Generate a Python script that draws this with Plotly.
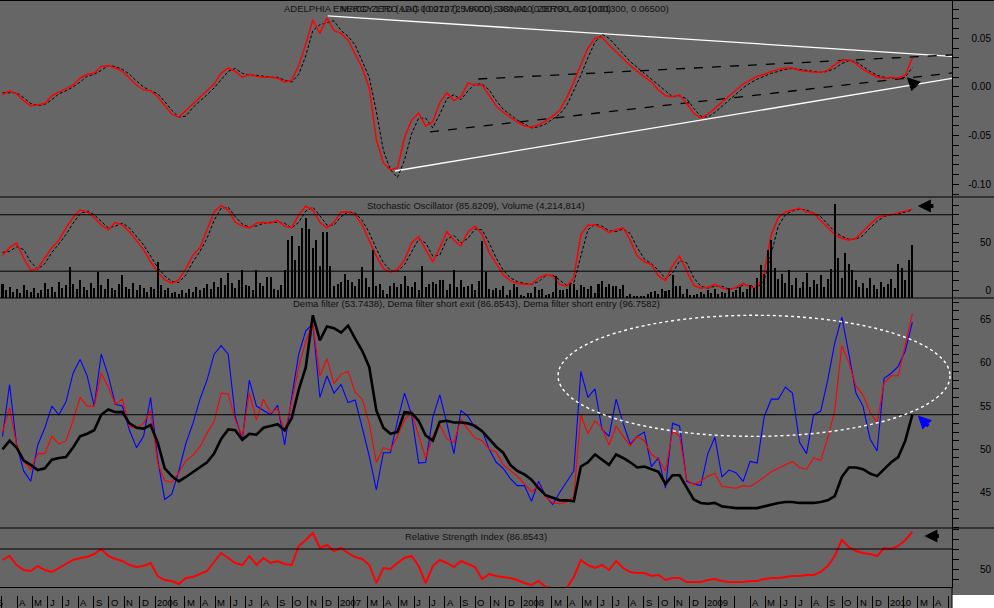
import plotly.graph_objects as go
import pandas as pd

# ---------------- data ----------------
START, END = "2005-03-03", "2010-02-18"
X_RANGE = ["2005-02-26", "2010-05-08"]

macd = [-0.008, -0.004, -0.007, -0.014, -0.0195, -0.018, -0.017, -0.009, -0.005, -0.002,
        0.002, 0.009, 0.013, 0.014, 0.021, 0.022, 0.0195, 0.016, 0.009, 0.002,
        -0.003, -0.004, -0.010, -0.0195, -0.028, -0.031, -0.024, -0.017, -0.011, -0.004,
        0.003, 0.014, 0.0195, 0.016, 0.010, 0.013, 0.011, 0.010, 0.010, 0.009,
        0.005, 0.007, 0.022, 0.044, 0.069, 0.055, 0.071, 0.058, 0.055, 0.048,
        0.033, 0.0195, -0.001, -0.054, -0.078, -0.085, -0.083, -0.052, -0.034, -0.027,
        -0.040, -0.036, -0.016, -0.006, -0.014, -0.010, 0.004, 0.002, 0.002, -0.009,
        -0.0195, -0.026, -0.031, -0.036, -0.040, -0.041, -0.039, -0.035, -0.030, -0.024,
        -0.011, 0.005, 0.023, 0.040, 0.050, 0.051, 0.043, 0.036, 0.028, 0.022,
        0.016, 0.010, 0.005, -0.003, -0.009, -0.010, -0.008, -0.017, -0.027, -0.032,
        -0.028, -0.022, -0.016, -0.010, -0.003, 0.003, 0.007, 0.011, 0.013, 0.016,
        0.018, 0.0195, 0.0195, 0.017, 0.016, 0.015, 0.015, 0.017, 0.023, 0.027,
        0.028, 0.024, 0.018, 0.014, 0.010, 0.009, 0.010, 0.009, 0.012, 0.030]

macd_signal = [-0.006, -0.006, -0.006, -0.011, -0.017, -0.019, -0.018, -0.013, -0.007, -0.004,
               0.000, 0.005, 0.011, 0.013, 0.017, 0.022, 0.021, 0.018, 0.013, 0.006,
               0.000, -0.004, -0.007, -0.015, -0.024, -0.031, -0.030, -0.021, -0.015, -0.008,
               -0.001, 0.008, 0.016, 0.019, 0.014, 0.012, 0.012, 0.011, 0.010, 0.010,
               0.007, 0.005, 0.013, 0.032, 0.058, 0.064, 0.066, 0.068, 0.058, 0.052,
               0.043, 0.027, 0.010, -0.025, -0.065, -0.085, -0.093, -0.075, -0.048, -0.032,
               -0.032, -0.042, -0.028, -0.012, -0.008, -0.013, -0.004, 0.003, 0.003, -0.003,
               -0.014, -0.023, -0.029, -0.034, -0.038, -0.042, -0.041, -0.038, -0.033, -0.028,
               -0.019, -0.004, 0.012, 0.030, 0.046, 0.054, 0.050, 0.042, 0.034, 0.026,
               0.020, 0.014, 0.008, 0.002, -0.005, -0.010, -0.009, -0.012, -0.022, -0.030,
               -0.031, -0.026, -0.020, -0.014, -0.007, -0.001, 0.004, 0.008, 0.011, 0.014,
               0.016, 0.018, 0.019, 0.018, 0.017, 0.016, 0.015, 0.016, 0.019, 0.024,
               0.027, 0.026, 0.021, 0.016, 0.012, 0.010, 0.009, 0.009, 0.010, 0.020]

stoch_k = [37, 45, 50, 34, 21, 23, 34, 45, 53, 66,
           77, 85, 83, 77, 69, 64, 72, 69, 62, 53,
           43, 30, 19, 11, 7, 11, 23, 37, 45, 64,
           83, 90, 85, 72, 68, 66, 71, 72, 71, 74,
           68, 66, 80, 89, 85, 72, 66, 72, 83, 83,
           80, 69, 53, 36, 23, 19, 22, 32, 50, 57,
           43, 30, 45, 62, 53, 47, 62, 68, 59, 40,
           28, 16, 10, 7, 6, 6, 13, 16, 15, 6,
           4, 13, 59, 69, 69, 66, 61, 64, 66, 53,
           36, 30, 27, 15, 10, 26, 36, 21, 5, 2,
           3, 6, 2, 0, 3, 7, 3, 2, 19, 59,
           77, 83, 85, 87, 83, 82, 74, 66, 59, 55,
           53, 55, 62, 69, 77, 79, 80, 82, 84, 86]

stoch_d = [40, 41, 46, 43, 30, 22, 28, 40, 49, 59,
           71, 81, 84, 80, 73, 66, 68, 71, 66, 57,
           48, 36, 24, 15, 9, 8, 16, 30, 41, 55,
           74, 87, 88, 78, 70, 67, 68, 71, 72, 72,
           71, 66, 72, 84, 88, 79, 69, 69, 78, 83,
           82, 74, 61, 44, 29, 21, 20, 27, 41, 54,
           50, 36, 37, 54, 58, 50, 55, 65, 64, 50,
           34, 21, 13, 9, 7, 6, 9, 15, 16, 10,
           5, 8, 36, 64, 70, 68, 63, 62, 65, 60,
           45, 33, 28, 21, 12, 18, 31, 29, 13, 4,
           2, 4, 4, 1, 2, 5, 5, 2, 10, 40,
           68, 80, 84, 86, 85, 82, 78, 70, 62, 57,
           54, 54, 58, 66, 73, 78, 80, 81, 83, 85]

volume_m = [1.1, 0.6, 0.9, 0.5, 0.7, 0.4, 1.0, 0.6, 0.5, 0.8,
            0.4, 0.6, 1.2, 0.7, 0.9, 0.5, 1.3, 0.8, 1.0, 2.5,
            1.1, 0.7, 1.4, 0.9, 0.6, 1.2, 0.8, 2.1, 1.0, 0.7,
            1.5, 0.8, 0.6, 1.1, 1.8, 0.9, 0.7, 1.2, 0.6, 1.0,
            0.8, 0.5, 0.9, 0.7, 2.9, 1.0, 0.6, 0.8, 0.4, 0.5,
            0.3, 0.6, 0.4, 0.7, 0.5, 0.9, 0.6, 0.8, 1.1, 0.7,
            1.3, 0.9, 1.6, 1.0, 2.0, 1.2, 0.8, 1.4, 2.2, 1.0,
            0.98, 0.66, 2.2, 1.19, 0.98, 1.67, 1.67, 0.72, 0.66, 1.06,
            2.2, 4.64, 4.96, 3.05, 4.1, 5.57, 6.36, 5.49, 3.98, 4.64,
            2.52, 5.22, 5.22, 2.57, 0.98, 1.14, 1.25, 1.93, 1.40, 1.25,
            0.98, 1.51, 2.46, 1.59, 0.87, 3.84, 0.93, 1.14, 0.61, 0.34,
            0.98, 1.19, 0.87, 1.14, 1.72, 0.93, 0.87, 1.25, 0.61, 2.57,
            0.87, 1.14, 1.25, 1.14, 1.46, 1.40, 0.61, 1.14, 2.2, 0.87,
            1.40, 0.87, 0.93, 1.14, 0.61, 1.33, 4.5, 2.04, 0.72, 0.66,
            0.80, 0.61, 0.93, 0.27, 0.66, 1.14, 0.87, 0.27, 0.19, 0.40,
            0.40, 0.87, 0.61, 0.72, 0.27, 0.34, 0.45, 1.78, 0.61, 0.66,
            0.72, 1.14, 1.14, 0.61, 1.06, 0.87, 0.72, 0.98, 0.40, 1.14,
            1.33, 0.87, 1.14, 0.98, 0.93, 0.72, 1.06, 0.19, 0.34, 0.19,
            0.19, 0.13, 0.13, 0.34, 0.45, 0.53, 0.34, 0.72, 0.53, 0.61,
            1.86, 0.98, 0.93, 0.34, 0.72, 0.27, 0.24,
            0.3, 0.5, 0.3, 0.6, 0.4, 0.7, 0.3, 0.5, 0.4, 0.8,
            0.5, 0.6, 0.9, 0.5, 0.7, 1.0, 0.8, 1.6, 2.6, 1.9,
            3.8, 4.6, 2.4, 1.5, 1.9, 1.2, 2.2, 1.0, 1.6, 0.8,
            1.3, 2.0, 0.9, 1.4, 1.1, 1.8, 0.9, 1.5, 2.3, 7.5,
            3.2, 1.6, 3.6, 2.7, 2.2, 1.4, 0.9, 1.2, 0.8, 1.6,
            1.0, 0.7, 1.3, 0.9, 1.1, 1.5, 0.8, 2.7, 2.4, 1.4,
            3.0, 4.2]

dema_short_entry = [51.5, 57.5, 50.5, 47.5, 46.3, 50.5, 52.5, 55.0, 54.0, 55.5,
                    58.8, 60.4, 58.5, 55.0, 61.0, 58.5, 55.2, 55.0, 52.2, 50.2,
                    51.5, 56.0, 48.8, 44.2, 44.8, 47.5, 50.7, 53.0, 55.8, 58.0,
                    61.0, 62.0, 61.0, 53.8, 51.1, 58.0, 55.0, 54.5, 54.0, 55.1,
                    50.5, 56.0, 61.0, 63.7, 64.5, 56.0, 58.5, 56.5, 57.5, 55.4,
                    55.7, 52.5, 49.2, 45.3, 49.6, 49.6, 53.3, 56.5, 54.0, 48.4,
                    48.5, 53.7, 56.3, 53.0, 49.5, 54.5, 53.8, 52.5, 52.2, 50.0,
                    48.5, 47.8, 46.6, 45.8, 45.8, 44.0, 46.3, 44.6, 43.6, 45.0,
                    46.3, 47.5, 59.0, 56.0, 57.0, 52.3, 51.5, 55.8, 53.0, 50.6,
                    51.5, 52.0, 48.0, 49.0, 45.5, 53.0, 52.7, 46.3, 46.0, 45.8,
                    49.5, 51.4, 46.8, 47.6, 47.3, 46.3, 48.6, 48.4, 53.8, 55.8,
                    55.8, 57.2, 56.5, 50.8, 49.5, 54.0, 54.4, 58.0, 62.3, 65.3,
                    61.0, 56.5, 55.0, 51.2, 49.8, 58.2, 58.8, 59.6, 61.4, 64.7]

dema_short_exit = [52.0, 54.8, 50.5, 48.6, 47.7, 49.5, 49.5, 51.5, 50.6, 51.0,
                   53.3, 56.0, 55.0, 55.0, 58.8, 57.2, 55.2, 55.8, 52.6, 52.5,
                   53.0, 54.5, 48.4, 46.4, 46.2, 47.3, 48.7, 49.3, 50.3, 51.9,
                   53.2, 56.5, 56.4, 53.4, 51.5, 56.5, 53.4, 55.8, 54.2, 54.7,
                   52.0, 55.5, 59.5, 62.5, 64.5, 58.5, 60.5, 57.6, 58.7, 59.0,
                   56.6, 55.8, 53.0, 48.5, 50.2, 49.9, 51.5, 53.4, 54.2, 51.5,
                   49.0, 51.5, 52.8, 51.2, 50.8, 53.5, 52.3, 51.3, 51.0, 50.0,
                   49.7, 48.2, 47.5, 46.9, 46.0, 45.1, 45.8, 44.5, 43.8, 43.7,
                   43.9, 44.5, 54.0, 51.8, 53.3, 52.5, 50.5, 52.7, 51.5, 50.4,
                   51.5, 51.0, 49.4, 48.9, 47.5, 52.1, 51.5, 46.5, 45.9, 46.3,
                   46.9, 47.2, 45.7, 45.6, 45.5, 45.8, 45.7, 46.2, 46.8, 47.4,
                   47.8, 48.2, 48.6, 47.9, 47.7, 49.0, 48.7, 51.3, 54.5, 62.0,
                   60.0, 57.3, 56.3, 54.3, 53.1, 57.7, 58.5, 58.5, 62.0, 65.7]

dema_filter = [50.0, 51.0, 50.2, 48.7, 48.2, 47.6, 47.8, 48.8, 49.0, 49.1,
               50.2, 51.5, 51.8, 52.2, 54.0, 54.6, 54.3, 54.3, 53.0, 52.5,
               52.4, 52.8, 50.8, 47.8, 46.9, 46.3, 46.8, 47.4, 47.9, 48.5,
               49.5, 51.2, 52.3, 52.2, 51.1, 51.8, 51.7, 52.5, 52.7, 52.9,
               52.2, 53.6, 56.9, 59.5, 65.5, 62.6, 64.2, 64.0, 63.5, 64.3,
               62.8, 61.4, 59.5, 54.5, 52.5, 51.8, 52.0, 54.3, 54.2, 53.3,
               51.6, 51.0, 53.2, 53.3, 53.1, 53.1, 53.0, 52.7, 52.1, 51.2,
               50.3, 49.6, 48.2, 47.5, 47.1, 46.5, 45.5, 44.7, 44.4, 44.1,
               44.1, 44.0, 48.0, 48.5, 49.4, 48.8, 48.2, 49.4, 49.0, 48.5,
               47.9, 48.0, 47.7, 47.4, 46.0, 47.0, 47.0, 45.6, 44.2, 43.8,
               43.7, 43.8, 43.4, 43.3, 43.2, 43.2, 43.2, 43.2, 43.4, 43.6,
               43.8, 43.9, 43.9, 43.8, 43.8, 43.8, 43.9, 44.1, 44.6, 46.8,
               47.9, 47.9, 47.7, 47.2, 46.9, 47.7, 48.5, 49.1, 51.0, 54.0]

rsi = [59, 63, 54, 49, 48, 53, 49, 47, 51, 55,
       59, 61, 62, 65, 70, 63, 60, 58, 54, 52,
       53, 56, 43, 39, 38, 35, 41, 42, 45, 48,
       57, 66, 61, 56, 54, 63, 54, 61, 56, 58,
       55, 54, 73, 79, 86, 71, 74, 68, 71, 66,
       62, 60, 54, 36, 51, 50, 56, 61, 63, 53,
       36, 53, 59, 56, 52, 58, 55, 52, 40, 45,
       43, 42, 41, 39, 36, 34, 38, 32, 31, 31,
       31, 42, 59, 54, 51, 54, 49, 58, 51, 47,
       46, 46, 43, 44, 39, 41, 41, 37, 37, 37,
       39, 40, 38, 37, 37, 37, 38, 38, 40, 41,
       41, 42, 43, 43, 44, 44, 47, 53, 63, 79,
       72, 68, 66, 65, 63, 71, 70, 73, 79, 87]

# drawn trend lines on the MACD panel (start / end)
tl_white_upper_x, tl_white_upper_y = ["2006-12-11", "2010-05-08"], [0.0729, 0.0314]
tl_white_lower_x, tl_white_lower_y = ["2007-04-24", "2010-05-08"], [-0.0863, 0.0088]
tl_dash_lower_x, tl_dash_lower_y = ["2007-07-03", "2010-05-08"], [-0.0462, 0.0144]
tl_dash_upper_x, tl_dash_upper_y = ["2007-10-07", "2010-05-08"], [0.0082, 0.0329]

# ellipse highlight in the Dema panel
ELL_X = ["2008-03-14", "2010-05-04"]
ELL_Y = [51.5, 65.5]

# horizontal reference levels
STOCH_LEVELS = [80, 20]
DEMA_LEVEL = 54.0
RSI_LEVEL = 70

titles = {
    "top_a": "ADELPHIA ENERGY LTD (ADI) 0.0270 (25.8000), 380,000, ZERO LAG (0.01300, 0.06500)",
    "top_b": "MACD ZERO LAG (0.0127), MACD SIGNAL (0.00790, 0.01000)",
    "stoch": "Stochastic Oscillator (85.8209), Volume (4,214,814)",
    "dema": "Dema filter (53.7438), Dema filter short exit (86.8543), Dema filter short entry (96.7582)",
    "rsi": "Relative Strength Index (86.8543)",
}

MONTH_LETTERS = ["J", "F", "M", "A", "M", "J", "J", "A", "S", "O", "N", "D"]

# ---------------- figure ----------------
dates = pd.date_range(START, END, periods=len(macd))
vol_dates = pd.date_range(START, END, periods=len(volume_m))

W, H = 994, 608
BG = "#666666"
FONT = "Liberation Sans, Arial, sans-serif"
XD = 952 / W


def py(px):
    return 1 - px / H


d1 = [py(197), 1]
d2 = [py(298), py(197)]
d3 = [py(528), py(298)]
d4 = [py(587), py(528)]

fig = go.Figure()

# MACD panel
for tx, ty, col, dash in [(tl_white_upper_x, tl_white_upper_y, "white", "solid"),
                          (tl_white_lower_x, tl_white_lower_y, "white", "solid"),
                          (tl_dash_lower_x, tl_dash_lower_y, "black", "dash"),
                          (tl_dash_upper_x, tl_dash_upper_y, "black", "dash")]:
    fig.add_trace(go.Scatter(x=tx, y=ty, mode="lines", xaxis="x", yaxis="y",
                             line=dict(color=col, width=1.3, dash=dash)))
fig.add_trace(go.Scatter(x=dates, y=macd_signal, mode="lines", xaxis="x", yaxis="y",
                         line=dict(color="black", width=1, dash="3px,2px")))
fig.add_trace(go.Scatter(x=dates, y=macd, mode="lines", xaxis="x", yaxis="y",
                         line=dict(color="#ff0000", width=1.5)))

# Stochastic + volume panel
fig.add_trace(go.Bar(x=vol_dates, y=volume_m, xaxis="x2", yaxis="y5",
                     marker=dict(color="black", line=dict(width=0)),
                     width=4 * 86400000))
fig.add_trace(go.Scatter(x=dates, y=stoch_d, mode="lines", xaxis="x2", yaxis="y2",
                         line=dict(color="black", width=1, dash="3px,2px")))
fig.add_trace(go.Scatter(x=dates, y=stoch_k, mode="lines", xaxis="x2", yaxis="y2",
                         line=dict(color="#ff0000", width=1.5)))

# Dema panel
fig.add_trace(go.Scatter(x=dates, y=dema_short_entry, mode="lines", xaxis="x3", yaxis="y3",
                         line=dict(color="#0000ff", width=1.1)))
fig.add_trace(go.Scatter(x=dates, y=dema_short_exit, mode="lines", xaxis="x3", yaxis="y3",
                         line=dict(color="#ff0000", width=1.1)))
fig.add_trace(go.Scatter(x=dates, y=dema_filter, mode="lines", xaxis="x3", yaxis="y3",
                         line=dict(color="black", width=2.6)))

# RSI panel
fig.add_trace(go.Scatter(x=dates, y=rsi, mode="lines", xaxis="x4", yaxis="y4",
                         line=dict(color="#ff0000", width=2)))

# helper traces so the auxiliary (overlay) axes are drawn
fig.add_trace(go.Scatter(x=[dates[0]], y=[None], xaxis="x5", yaxis="y4", mode="lines"))
for ya, xa in [("y6", "x"), ("y7", "x2"), ("y8", "x3"), ("y9", "x4")]:
    fig.add_trace(go.Scatter(x=[dates[0]], y=[None], xaxis=xa, yaxis=ya, mode="lines"))

xcommon = dict(domain=[0, XD], range=X_RANGE, type="date", showticklabels=False,
               showgrid=False, zeroline=False, ticks="", fixedrange=True)
ycommon = dict(side="right", ticks="outside", ticklen=6, tickcolor="black", tickwidth=1,
               showticklabels=False, showline=True, linecolor="black", linewidth=1,
               showgrid=False, zeroline=False, fixedrange=True)
lblcommon = dict(side="right", anchor="free", position=1.0, ticks="",
                 ticklabelposition="inside", showgrid=False, zeroline=False,
                 showline=False, fixedrange=True, automargin=False,
                 tickfont=dict(family=FONT, size=10, color="black"))

r1, r2, r3, r4 = [-0.113, 0.0893], [-8.5, 98.9], [40.9, 67.5], [32, 91]

month_starts = pd.date_range("2005-03-01", "2010-05-01", freq="MS")

fig.update_layout(
    width=W, height=H, margin=dict(l=0, r=0, t=0, b=0, autoexpand=False),
    paper_bgcolor=BG, plot_bgcolor=BG, showlegend=False, bargap=0,
    font=dict(family=FONT, size=10, color="black"),
    xaxis=dict(anchor="y", **xcommon),
    xaxis2=dict(anchor="y2", **xcommon),
    xaxis3=dict(anchor="y3", **xcommon),
    xaxis4=dict(anchor="y4", showline=True, linecolor="black", linewidth=1, **xcommon),
    xaxis5=dict(overlaying="x4", anchor="free", position=py(595), range=X_RANGE, type="date",
                tickvals=list(month_starts), ticks="outside", ticklen=13, tickcolor="black",
                tickwidth=1, showticklabels=False, showgrid=False, showline=False,
                zeroline=False, fixedrange=True),
    yaxis=dict(domain=d1, anchor="x", range=r1, dtick=0.01, tick0=0, **ycommon),
    yaxis2=dict(domain=d2, anchor="x2", range=r2, dtick=10, tick0=0, **ycommon),
    yaxis3=dict(domain=d3, anchor="x3", range=r3, dtick=1, tick0=0, **ycommon),
    yaxis4=dict(domain=d4, anchor="x4", range=r4, dtick=10, tick0=0, **ycommon),
    yaxis5=dict(overlaying="y2", range=[0, 8.03], visible=False, fixedrange=True),
    yaxis6=dict(overlaying="y", range=r1, tickvals=[0.05, 0.0, -0.05, -0.10],
                ticktext=["0.05", "0.00", "-0.05", "-0.10"], **lblcommon),
    yaxis7=dict(overlaying="y2", range=r2, tickvals=[0, 50], ticktext=["0", "50"], **lblcommon),
    yaxis8=dict(overlaying="y3", range=r3, tickvals=[45, 50, 55, 60, 65],
                ticktext=["45", "50", "55", "60", "65"], **lblcommon),
    yaxis9=dict(overlaying="y4", range=r4, tickvals=[50], ticktext=["50"], **lblcommon),
)

shapes = []
for px in [0.5, 197, 298, 528]:
    shapes.append(dict(type="line", xref="paper", yref="paper", x0=0, x1=1,
                       y0=py(px), y1=py(px), line=dict(color="black", width=1)))
for lv in STOCH_LEVELS:
    shapes.append(dict(type="line", xref="x2 domain", yref="y2", x0=0, x1=1, y0=lv, y1=lv,
                       line=dict(color="black", width=1)))
shapes.append(dict(type="line", xref="x3 domain", yref="y3", x0=0, x1=1,
                   y0=DEMA_LEVEL, y1=DEMA_LEVEL, line=dict(color="black", width=1)))
shapes.append(dict(type="line", xref="x4 domain", yref="y4", x0=0, x1=1,
                   y0=RSI_LEVEL, y1=RSI_LEVEL, line=dict(color="black", width=1)))
shapes.append(dict(type="circle", xref="x3", yref="y3", x0=ELL_X[0], x1=ELL_X[1],
                   y0=ELL_Y[0], y1=ELL_Y[1], line=dict(color="white", width=1.4, dash="dot")))
shapes.append(dict(type="rect", xref="paper", yref="paper", x0=XD, x1=1, y0=0, y1=py(595),
                   fillcolor="white", line=dict(width=0)))
shapes.append(dict(type="line", xref="paper", yref="paper", x0=XD, x1=XD, y0=0, y1=py(587),
                   line=dict(color="black", width=1)))
fig.update_layout(shapes=shapes)

ann = []
tfont = dict(family=FONT, size=9.5, color="#111111")
for key, ypx in [("top_a", 8.5), ("top_b", 8.5), ("stoch", 205.5), ("dema", 303.5), ("rsi", 536.5)]:
    ann.append(dict(text=titles[key], xref="paper", yref="paper", x=476 / W, y=py(ypx),
                    xanchor="center", yanchor="middle", showarrow=False, font=tfont))

# month / year labels on the time axis
lab_font = dict(family=FONT, size=9.5, color="black")
for m in month_starts:
    if m == month_starts[0]:
        # the year label of 2005 only peeks in at the left edge
        ann.append(dict(text=str(m.year), xref="x4", yref="paper", x=m, y=py(602),
                        xanchor="right", yanchor="middle", xshift=3, showarrow=False,
                        font=lab_font))
        continue
    if m.month == 1:
        lab = str(m.year)
    elif m.month == 2 or (m.year == 2009 and m.month == 3):
        lab = ""
    else:
        lab = MONTH_LETTERS[m.month - 1]
    if not lab or m >= pd.Timestamp("2010-05-01"):
        continue
    ann.append(dict(text=lab, xref="x4", yref="paper", x=m, y=py(602), xanchor="left",
                    yanchor="middle", xshift=0, showarrow=False, font=lab_font))

# marker arrows
ann.append(dict(x="2010-02-07", y=0.010, xref="x", yref="y", ax=11, ay=11, text="",
                showarrow=True, arrowhead=2, arrowsize=0.75, arrowwidth=3.5, arrowcolor="black"))
ann.append(dict(x="2010-03-01", y=89.4, xref="x2", yref="y2", ax=17, ay=0, text="",
                showarrow=True, arrowhead=2, arrowsize=0.65, arrowwidth=4, arrowcolor="black"))
ann.append(dict(x="2010-03-01", y=53.9, xref="x3", yref="y3", ax=12, ay=12, text="",
                showarrow=True, arrowhead=2, arrowsize=0.75, arrowwidth=3.5, arrowcolor="#0000ff"))
ann.append(dict(x="2010-03-14", y=83, xref="x4", yref="y4", ax=16, ay=0, text="",
                showarrow=True, arrowhead=2, arrowsize=0.65, arrowwidth=4, arrowcolor="black"))
fig.update_layout(annotations=ann)

fig.write_html("out.html", config={"displayModeBar": False},
               post_script="document.body.style.margin='0px';document.body.style.overflow='hidden';")
